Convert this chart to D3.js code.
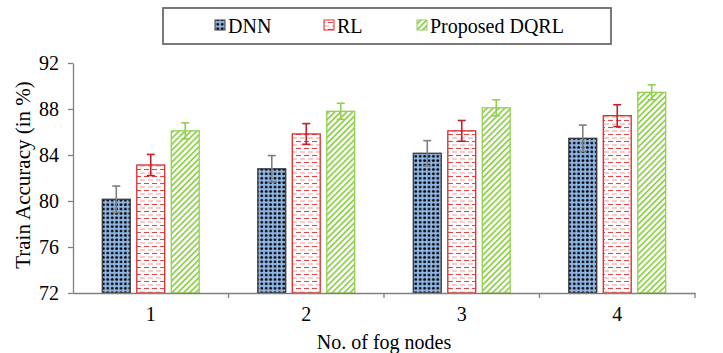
<!DOCTYPE html>
<html>
<head>
<meta charset="utf-8">
<script src="https://cdn.jsdelivr.net/npm/d3@7"></script>
<style>
  body { margin: 0; background: #fff; }
  text { font-family: "Liberation Serif", "Times New Roman", serif; fill: #000; }
</style>
</head>
<body>
<div id="chart"></div>
<script>
const width = 723;
const height = 353;

// data
const categories = ["1", "2", "3", "4"];
const series = ["DNN", "RL", "Proposed DQRL"];
const dnn = [80.15, 82.8, 84.15, 85.45];
const rl = [83.13, 85.83, 86.1, 87.42];
const dqrl = [86.1, 87.8, 88.1, 89.45];
const dnnErr = [1.15, 1.15, 1.1, 1.15];
const rlErr = [0.92, 0.9, 0.9, 0.95];
const dqrlErr = [0.7, 0.7, 0.7, 0.65];
const yTicks = [72, 76, 80, 84, 88, 92];

const values = [dnn, rl, dqrl];
const errors = [dnnErr, rlErr, dqrlErr];
const strokeCol = ["#3a3a3a", "#dd2a2a", "#92d050"];
const errCol = ["#7f7f7f", "#c8202a", "#92d050"];

const margin = { left: 73, right: 28, top: 63, bottom: 60 };

const svg = d3.select("#chart")
  .append("svg")
  .attr("width", width)
  .attr("height", height);

// fill patterns
const defs = svg.append("defs");

const pDots = defs.append("pattern")
  .attr("id", "p0")
  .attr("patternUnits", "userSpaceOnUse")
  .attr("width", 4.4).attr("height", 4.4);
pDots.append("rect").attr("width", 4.4).attr("height", 4.4).attr("fill", "#8db4e2");
pDots.append("circle").attr("cx", 2.2).attr("cy", 2.2).attr("r", 1.4).attr("fill", "#000");

const pDash = defs.append("pattern")
  .attr("id", "p1")
  .attr("patternUnits", "userSpaceOnUse")
  .attr("width", 8).attr("height", 7);
pDash.append("rect").attr("width", 8).attr("height", 7).attr("fill", "#fff");
pDash.append("line").attr("x1", 0).attr("x2", 5).attr("y1", 1.5).attr("y2", 1.5)
  .attr("stroke", "#e04848").attr("stroke-width", 1.1);
pDash.append("line").attr("x1", 4).attr("x2", 9).attr("y1", 5).attr("y2", 5)
  .attr("stroke", "#f0a0a0").attr("stroke-width", 1.1);
pDash.append("line").attr("x1", -4).attr("x2", 1).attr("y1", 5).attr("y2", 5)
  .attr("stroke", "#f0a0a0").attr("stroke-width", 1.1);

const pDiag = defs.append("pattern")
  .attr("id", "p2")
  .attr("patternUnits", "userSpaceOnUse")
  .attr("width", 4.2).attr("height", 4.2)
  .attr("patternTransform", "rotate(45)");
pDiag.append("rect").attr("width", 4.2).attr("height", 4.2).attr("fill", "#fff");
pDiag.append("rect").attr("width", 1.8).attr("height", 4.2).attr("fill", "#92d050");

// scales
const x = d3.scaleBand()
  .domain(categories)
  .range([margin.left, width - margin.right]);

const xs = d3.scaleBand()
  .domain(series)
  .range([0, x.bandwidth()])
  .paddingInner(0.19)
  .paddingOuter(0.85);

const y = d3.scaleLinear()
  .domain([72, 92])
  .range([height - margin.bottom, margin.top]);

// bars
series.forEach((s, si) => {
  const g = svg.append("g");
  g.selectAll("rect")
    .data(categories)
    .join("rect")
    .attr("x", c => x(c) + xs(s))
    .attr("y", (c, i) => y(values[si][i]))
    .attr("width", xs.bandwidth())
    .attr("height", (c, i) => y(72) - y(values[si][i]))
    .attr("fill", `url(#p${si})`)
    .attr("stroke", strokeCol[si])
    .attr("stroke-width", 1.3);

  // error bars
  const eb = g.selectAll("g.err")
    .data(categories)
    .join("g")
    .attr("class", "err")
    .attr("stroke", errCol[si])
    .attr("stroke-width", 1.6);
  eb.append("line")
    .attr("x1", c => x(c) + xs(s) + xs.bandwidth() / 2)
    .attr("x2", c => x(c) + xs(s) + xs.bandwidth() / 2)
    .attr("y1", (c, i) => y(values[si][i] + errors[si][i]))
    .attr("y2", (c, i) => y(values[si][i] - errors[si][i]));
  [1, -1].forEach(sign => {
    eb.append("line")
      .attr("x1", c => x(c) + xs(s) + xs.bandwidth() / 2 - 4)
      .attr("x2", c => x(c) + xs(s) + xs.bandwidth() / 2 + 4)
      .attr("y1", (c, i) => y(values[si][i] + sign * errors[si][i]))
      .attr("y2", (c, i) => y(values[si][i] + sign * errors[si][i]));
  });
});

// y axis
const yAxis = svg.append("g")
  .attr("transform", `translate(${margin.left},0)`)
  .call(d3.axisLeft(y).tickValues(yTicks).tickSize(5).tickPadding(9).tickSizeOuter(0));
yAxis.select(".domain").attr("stroke", "#808080").attr("stroke-width", 1.3);
yAxis.selectAll(".tick line").attr("stroke", "#808080").attr("stroke-width", 1.3);
yAxis.selectAll(".tick text")
  .style("font-family", "Liberation Serif")
  .style("font-size", "20px")
  .attr("fill", "#000");

// x axis
const xAxis = svg.append("g")
  .attr("transform", `translate(0,${y(72)})`)
  .call(d3.axisBottom(x).tickSize(0).tickPadding(14).tickSizeOuter(0));
xAxis.select(".domain").attr("stroke", "#808080").attr("stroke-width", 1.3);
xAxis.selectAll(".tick text")
  .style("font-family", "Liberation Serif")
  .style("font-size", "20px")
  .attr("fill", "#000");

// boundary ticks between categories
const bounds = categories.map(c => x(c)).concat([x(categories[categories.length - 1]) + x.bandwidth()]);
svg.append("g")
  .selectAll("line")
  .data(bounds.slice(1))
  .join("line")
  .attr("x1", d => d).attr("x2", d => d)
  .attr("y1", y(72)).attr("y2", y(72) + 5)
  .attr("stroke", "#808080").attr("stroke-width", 1.3);

// axis titles
svg.append("text")
  .attr("x", (margin.left + width - margin.right) / 2)
  .attr("y", 349)
  .attr("text-anchor", "middle")
  .style("font-size", "20px")
  .text("No. of fog nodes");

svg.append("text")
  .attr("transform", `translate(30,${(y(72) + y(92)) / 2 - 3}) rotate(-90)`)
  .attr("text-anchor", "middle")
  .style("font-size", "21px")
  .text("Train Accuracy (in %)");

// legend
const legend = svg.append("g");
legend.append("rect")
  .attr("x", 163).attr("y", 8)
  .attr("width", 448).attr("height", 36)
  .attr("fill", "#fff")
  .attr("stroke", "#6b6b6b")
  .attr("stroke-width", 1.8);

const legX = [215, 324, 417];
series.forEach((s, si) => {
  legend.append("rect")
    .attr("x", legX[si]).attr("y", 20)
    .attr("width", 10).attr("height", 10)
    .attr("fill", `url(#p${si})`)
    .attr("stroke", strokeCol[si])
    .attr("stroke-width", 1);
  legend.append("text")
    .attr("x", legX[si] + 13)
    .attr("y", 33)
    .style("font-size", "20px")
    .text(s);
});
</script>
</body>
</html>
